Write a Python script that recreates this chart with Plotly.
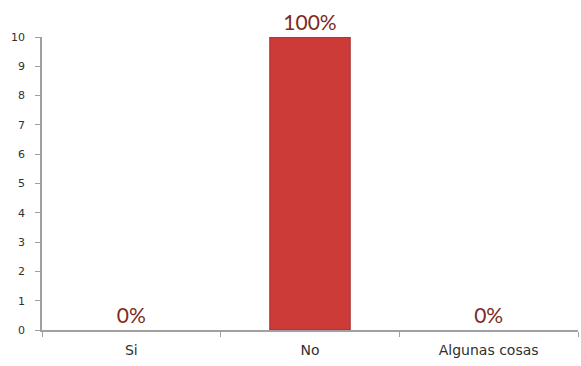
import plotly.graph_objects as go

categories = ["Si", "No", "Algunas cosas"]
values = [0, 10, 0]
labels = ["0%", "100%", "0%"]

fig = go.Figure()
fig.add_trace(go.Bar(
    x=categories, y=values, text=labels, textposition="outside",
    textfont=dict(family="Lato, DejaVu Sans", size=21, color="#7b2b22"),
    marker=dict(color="#cc3b38", line=dict(color="#a52b29", width=[0, 1, 0])),
    width=0.45, cliponaxis=False,
))
fig.update_layout(
    width=581, height=366,
    margin=dict(l=42, r=3, t=37, b=36),
    paper_bgcolor="white", plot_bgcolor="white",
    showlegend=False,
    xaxis=dict(showline=True, linecolor="#a0a0a0", linewidth=1.5,
               ticks="outside", tickson="boundaries", ticklen=5, tickcolor="#a0a0a0",
               ticklabelstandoff=6,
               tickfont=dict(family="DejaVu Sans", size=14, color="#303030"),
               showgrid=False),
    yaxis=dict(range=[0, 10], dtick=1, showline=True, linecolor="#a0a0a0", linewidth=1.5,
               ticks="outside", ticklen=5, tickcolor="#a0a0a0",
               ticklabelstandoff=8,
               tickfont=dict(family="DejaVu Sans", size=11, color="#303030"),
               showgrid=False, zeroline=False),
)
fig.write_html("out.html")
